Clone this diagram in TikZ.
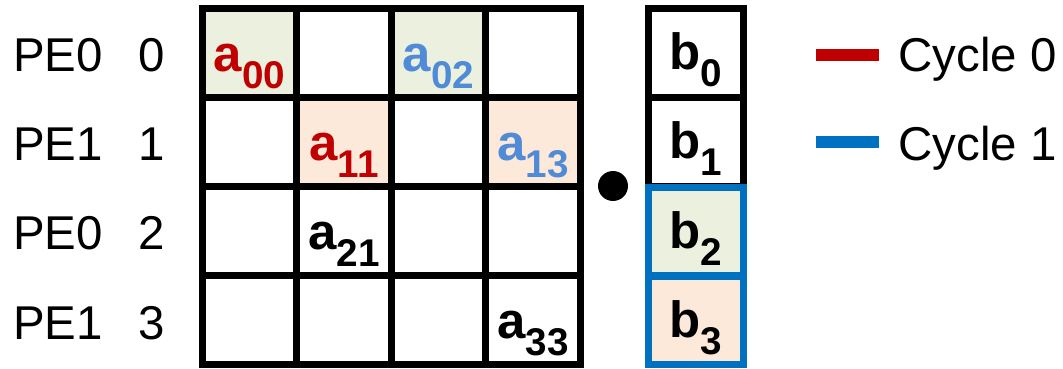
\documentclass[tikz,border=0pt]{standalone}
\usepackage{fontspec}
\setmainfont{Liberation Sans}
\usetikzlibrary{positioning}
\definecolor{cycred}{HTML}{C00000}
\definecolor{cycblue}{HTML}{0070C0}
\definecolor{elemblue}{HTML}{4F8BD6}
\definecolor{cellgreen}{HTML}{EBF0DF}
\definecolor{cellpeach}{HTML}{FDE9DA}
% element with subscript, bold
\newcommand\elem[2]{\textbf{#1\raisebox{-9.5pt}{\fontsize{22}{22}\selectfont #2}}}

\begin{document}
\begin{tikzpicture}[
  x=0.02cm, y=0.02cm,
  cell/.style={draw=black, line width=0.14cm, minimum width=1.89cm, minimum height=1.78cm,
    inner sep=0pt, outer sep=0pt},
  bcell/.style={cell, draw=cycblue},
  elemlbl/.style={anchor=base, inner sep=0pt, font=\fontsize{29}{29}\selectfont},
  rowlbl/.style={anchor=base west, inner sep=0pt, font=\fontsize{27}{27}\selectfont},
  idxlbl/.style={anchor=base, inner sep=0pt, font=\fontsize{27}{27}\selectfont},
  legline/.style={line width=0.24cm},
  % cells with a fill
  f00/.style={fill=cellgreen}, f02/.style={fill=cellgreen},
  f11/.style={fill=cellpeach}, f13/.style={fill=cellpeach}
]
  \useasboundingbox (0,0) rectangle (1063,369);

  % Matrix A, 4x4
  \foreach \r in {0,...,3}
    \foreach \c in {0,...,3}
      \node[cell, f\r\c/.try] (a\r\c) at ({249.5+94.5*\c}, {316-89*\r}) {};

  % Row labels
  \foreach \r/\pe in {0/0,1/1,2/0,3/1} {
    \node[rowlbl] (pe\r) at (13, {297-89*\r}) {PE\pe};
    \node[idxlbl] (idx\r) at (151.5, {297-89*\r}) {\r};
  }

  % Non-zero elements
  \node[elemlbl, text=cycred]   (t00) at ([yshift=-0.38cm]a00.center) {\elem{a}{00}};
  \node[elemlbl, text=elemblue] (t02) at ([yshift=-0.38cm]a02.center) {\elem{a}{02}};
  \node[elemlbl, text=cycred]   (t11) at ([yshift=-0.38cm]a11.center) {\elem{a}{11}};
  \node[elemlbl, text=elemblue] (t13) at ([yshift=-0.38cm]a13.center) {\elem{a}{13}};
  \node[elemlbl]                (t21) at ([yshift=-0.38cm]a21.center) {\elem{a}{21}};
  \node[elemlbl]                (t33) at ([yshift=-0.38cm]a33.center) {\elem{a}{33}};

  % Dot product
  \node[circle, fill=black, minimum size=0.6cm, inner sep=0pt] (dot) at (613,183) {};

  % Vector b
  \node[cell]                   (b0) at (696,316) {};
  \node[cell]                   (b1) at (696,227) {};
  \node[bcell, fill=cellgreen]  (b2) at (696,137.5) {};
  \node[bcell, fill=cellpeach]  (b3) at (696,48.5) {};
  \foreach \i in {0,...,3}
    \node[elemlbl] (tb\i) at ([yshift=-0.34cm]b\i.center) {\elem{b}{\i}};

  % Legend
  \node[rowlbl] (cyc0) at (898,297) {Cycle 0};
  \node[rowlbl] (cyc1) at (898,208) {Cycle 1};
  \draw[legline, draw=cycred]  ([shift={(-19,17)}]cyc0.base west) -- ++(-63,0);
  \draw[legline, draw=cycblue] ([shift={(-19,19)}]cyc1.base west) -- ++(-63,0);
\end{tikzpicture}
\end{document}
